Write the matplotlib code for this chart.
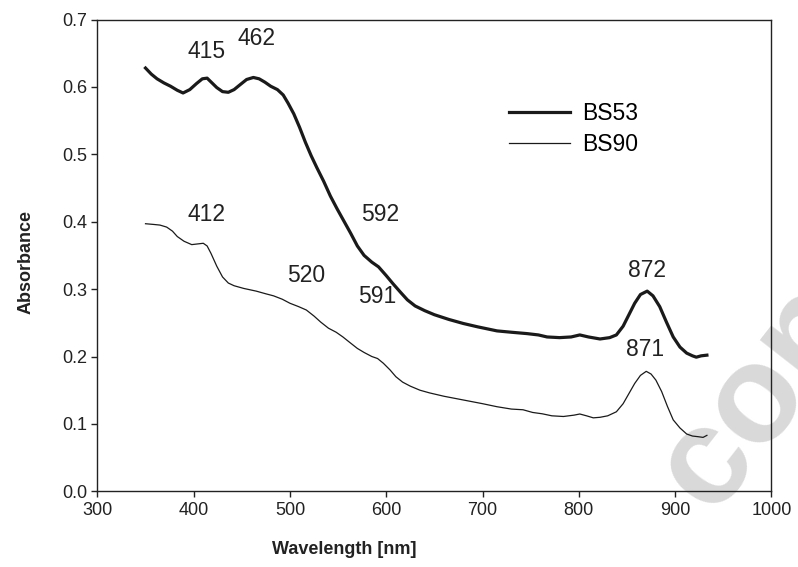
import matplotlib
matplotlib.use("Agg")
import matplotlib.pyplot as plt

plt.rcParams['font.family'] = ['Liberation Sans', 'DejaVu Sans']

# BS53 spectrum (thick line)
bs53_wl = [350, 356, 362, 369, 376, 383, 389, 396, 403, 409, 414, 419, 424, 430,
           436, 442, 448, 455, 462, 468, 474, 480, 487, 493, 498, 504, 510, 516,
           522, 528, 535, 542, 549, 556, 563, 570, 577, 585, 592, 600, 607, 615,
           622, 630, 640, 650, 665, 680, 695, 715, 730, 746, 758, 767, 780, 792,
           801, 810, 822, 832, 839, 846, 852, 858, 864, 871, 877, 884, 891, 898,
           905, 912, 918, 922, 927, 933]
bs53_abs = [0.628, 0.619, 0.612, 0.606, 0.601, 0.595, 0.591, 0.596, 0.605, 0.612,
            0.613, 0.606, 0.599, 0.593, 0.592, 0.596, 0.603, 0.611, 0.614, 0.612,
            0.607, 0.601, 0.596, 0.588, 0.576, 0.560, 0.540, 0.518, 0.498, 0.480,
            0.460, 0.438, 0.419, 0.401, 0.383, 0.364, 0.350, 0.340, 0.333, 0.320,
            0.308, 0.295, 0.284, 0.275, 0.268, 0.262, 0.255, 0.249, 0.244, 0.238,
            0.236, 0.234, 0.232, 0.229, 0.228, 0.229, 0.232, 0.229, 0.226, 0.228,
            0.232, 0.245, 0.262, 0.279, 0.292, 0.297, 0.290, 0.274, 0.251, 0.229,
            0.214, 0.205, 0.201, 0.199, 0.201, 0.202]

# BS90 spectrum (thin line)
bs90_wl = [350, 358, 365, 372, 378, 383, 390, 398, 404, 410, 414, 418, 424, 430,
           436, 442, 452, 465, 475, 483, 492, 500, 509, 517, 525, 532, 540, 548,
           555, 562, 570, 577, 585, 591, 597, 604, 610, 617, 625, 635, 645, 660,
           680, 700, 715, 730, 742, 752, 762, 772, 784, 795, 801, 808, 815, 822,
           830, 839, 846, 852, 858, 864, 870, 875, 880, 886, 892, 898, 905, 912,
           918, 924, 929, 933]
bs90_abs = [0.397, 0.396, 0.395, 0.392, 0.386, 0.378, 0.371, 0.366, 0.367, 0.368,
            0.364, 0.353, 0.334, 0.318, 0.309, 0.305, 0.301, 0.297, 0.293, 0.290,
            0.285, 0.279, 0.274, 0.269, 0.260, 0.251, 0.242, 0.236, 0.229, 0.221,
            0.212, 0.206, 0.200, 0.197, 0.190, 0.180, 0.170, 0.162, 0.156, 0.150,
            0.146, 0.141, 0.1355, 0.130, 0.1255, 0.122, 0.121, 0.117, 0.115, 0.112,
            0.111, 0.113, 0.1147, 0.112, 0.109, 0.1098, 0.112, 0.118, 0.130, 0.145,
            0.160, 0.172, 0.178, 0.174, 0.165, 0.148, 0.126, 0.106, 0.094, 0.085,
            0.082, 0.081, 0.080, 0.083]

# peak labels: text, x, y (data coords)
peak_labels = ["415", "462", "412", "592", "520", "591", "872", "871"]
peak_x = [413, 465, 413, 594, 517, 591, 871, 869]
peak_y = [0.652, 0.672, 0.410, 0.410, 0.320, 0.289, 0.328, 0.210]

x_ticks = [300, 400, 500, 600, 700, 800, 900, 1000]
y_ticks = [0.0, 0.1, 0.2, 0.3, 0.4, 0.5, 0.6, 0.7]

fig = plt.figure(figsize=(7.98, 5.67), dpi=100)
ax = fig.add_axes([0.122, 0.1335, 0.8447, 0.8321])
ax.patch.set_visible(False)

# watermark behind the axes
fig.text(0.952, 0.302, "con", fontsize=100, fontweight='bold', color='#d9d9d9',
         rotation=52, ha='center', va='center', rotation_mode='anchor', zorder=-1)

ax.plot(bs53_wl, bs53_abs, color='#1a1a1a', lw=2.3, label='BS53')
ax.plot(bs90_wl, bs90_abs, color='#1a1a1a', lw=0.9, label='BS90')

for t, x, y in zip(peak_labels, peak_x, peak_y):
    ax.text(x, y, t, fontsize=16.5, ha='center', va='center', color='#222222')

ax.set_xlim(300, 1000)
ax.set_ylim(0, 0.7)
ax.set_xticks(x_ticks)
ax.set_yticks(y_ticks)
ax.set_yticklabels([f"{v:.1f}" for v in y_ticks])
ax.tick_params(direction='out', length=4, width=1, labelsize=13, colors='#222222',
               top=False, right=False)
for s in ax.spines.values():
    s.set_linewidth(1.0)
    s.set_color('#222222')

ax.set_xlabel('Wavelength [nm]', fontsize=13, fontweight='bold', color='#222222')
ax.set_ylabel('Absorbance', fontsize=13, fontweight='bold', color='#222222')
ax.xaxis.set_label_coords(0.366, -0.106)
ax.yaxis.set_label_coords(-0.093, 0.485)

ax.legend(loc='upper left', bbox_to_anchor=(0.594, 0.85), frameon=False, fontsize=16.5,
          handlelength=2.66, handletextpad=0.52, labelspacing=0.38, borderpad=0)

fig.savefig('out.png', dpi=100)
